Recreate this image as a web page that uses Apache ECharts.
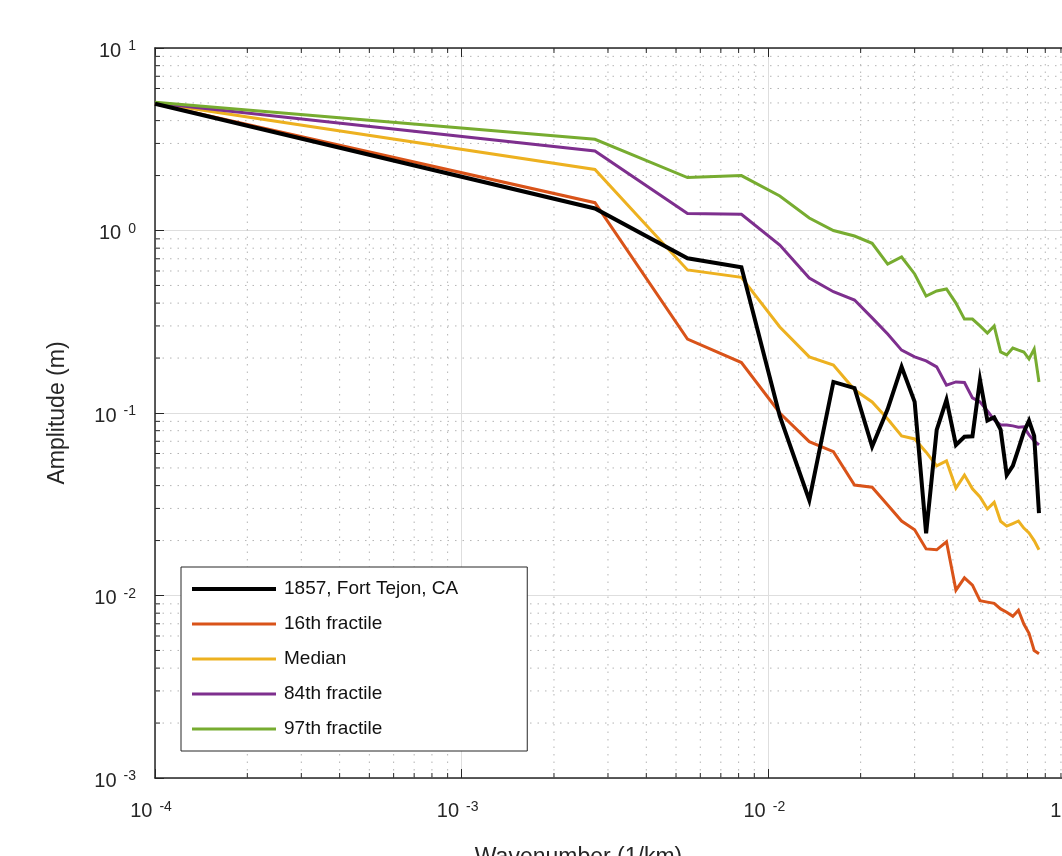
<!DOCTYPE html>
<html>
<head>
<meta charset="utf-8">
<script src="https://cdn.jsdelivr.net/npm/echarts@6/dist/echarts.min.js"></script>
<style>
  html, body { margin: 0; padding: 0; background: #fff; }
  #chart { width: 1062px; height: 856px; }
</style>
</head>
<body>
<div id="chart"></div>
<script>
// wavenumber (1/km) shared by every curve
var wavenumber = [0.0001, 0.00272, 0.00545, 0.00817, 0.0109, 0.0136, 0.0163, 0.0191, 0.0218,
  0.0245, 0.0272, 0.0300, 0.0327, 0.0354, 0.0381, 0.0409, 0.0436, 0.0463, 0.0490,
  0.0518, 0.0545, 0.0572, 0.0599, 0.0627, 0.0654, 0.0681, 0.0708, 0.0736, 0.0763]

var fortTejon = [4.95, 1.32, 0.704, 0.628, 0.096, 0.0333, 0.148, 0.137, 0.0654,
  0.105, 0.179, 0.115, 0.0219, 0.0807, 0.118, 0.0668, 0.0741, 0.0745, 0.152,
  0.0908, 0.0947, 0.081, 0.0457, 0.0513, 0.0635, 0.0787, 0.0908, 0.075, 0.0283]
var frac16 = [4.95, 1.42, 0.254, 0.189, 0.100, 0.0697, 0.0614, 0.0403, 0.0392,
  0.0313, 0.0256, 0.0229, 0.0180, 0.0178, 0.0197, 0.0107, 0.0125, 0.0114, 0.00937,
  0.0092, 0.00906, 0.00844, 0.0081, 0.0077, 0.0083, 0.00698, 0.0062, 0.0050, 0.0048]
var median = [5.0, 2.16, 0.608, 0.554, 0.296, 0.203, 0.183, 0.134, 0.115,
  0.0927, 0.0748, 0.0721, 0.061, 0.0513, 0.0546, 0.0388, 0.0457, 0.0384, 0.0347,
  0.0298, 0.0324, 0.0255, 0.024, 0.0248, 0.0256, 0.0234, 0.022, 0.020, 0.0178]
var frac84 = [5.0, 2.73, 1.24, 1.227, 0.833, 0.549, 0.462, 0.416, 0.332,
  0.271, 0.221, 0.203, 0.193, 0.179, 0.142, 0.148, 0.147, 0.121, 0.115,
  0.1026, 0.0916, 0.086, 0.086, 0.085, 0.0836, 0.084, 0.0759, 0.0703, 0.0668]
var frac97 = [5.05, 3.16, 1.95, 2.0, 1.545, 1.171, 1.0, 0.933, 0.851,
  0.655, 0.716, 0.578, 0.437, 0.466, 0.478, 0.40, 0.327, 0.327, 0.300,
  0.274, 0.300, 0.216, 0.208, 0.227, 0.221, 0.216, 0.198, 0.224, 0.148]

var names = ['1857, Fort Tejon, CA', '16th fractile', 'Median', '84th fractile', '97th fractile']
var colors = ['#000000', '#D95319', '#EDB120', '#7E2F8E', '#77AC30']
var widths = [4, 3, 3, 3, 3]

var X_MIN = 1e-4, X_MAX = 1e-1, Y_MIN = 1e-3, Y_MAX = 10
var axisColor = '#262626'
var font = '"Liberation Sans", Arial, Helvetica, sans-serif'

// minor (2..9) positions for dotted grid + small ticks
var minorX = [], minorY = []
for (var d = -4; d < -1; d++) for (var m = 2; m < 10; m++) minorX.push([m * Math.pow(10, d), Y_MIN])
for (var d = -3; d < 1; d++) for (var m = 2; m < 10; m++) minorY.push([X_MIN, m * Math.pow(10, d)])

function pairs(ys) {
  return ys.map(function (y, i) { return [wavenumber[i], y] })
}

function expLabel(v) {
  return '{b|10}{e|' + Math.round(Math.log10(v)) + '}'
}
var labelRich = {
  b: { fontSize: 20, color: axisColor, fontFamily: font },
  e: { fontSize: 14, color: axisColor, fontFamily: font, padding: [0, 0, 9, 7] }
}

var chart = echarts.init(document.getElementById('chart'))

function lineSeries(idx, data, z) {
  return {
    name: names[idx],
    type: 'line',
    data: pairs(data),
    symbol: 'none',
    showSymbol: false,
    z: z,
    lineStyle: { color: colors[idx], width: widths[idx], join: 'miter' },
    itemStyle: { color: colors[idx] }
  }
}

var option = {
  animation: false,
  backgroundColor: '#fff',
  grid: { left: 155, top: 48, width: 920, height: 730, outerBoundsMode: 'none', containLabel: false },
  legend: {
    data: names.map(function (n, i) {
      return { name: n, lineStyle: { width: widths[i], color: colors[i] } }
    }),
    orient: 'vertical',
    left: 181,
    top: 567,
    padding: [12, 69, 12, 9],
    itemWidth: 84,
    itemHeight: 20,
    itemGap: 15,
    itemStyle: { opacity: 0 },
    backgroundColor: '#fff',
    borderColor: axisColor,
    borderWidth: 1,
    borderRadius: 0,
    textStyle: { fontSize: 19, lineHeight: 20, color: '#111', fontFamily: font, padding: [0, 0, 0, 3] }
  },
  xAxis: [{
    type: 'log',
    logBase: 10,
    min: X_MIN,
    max: X_MAX,
    name: 'Wavenumber (1/km)',
    nameLocation: 'middle',
    nameGap: 68,
    nameTextStyle: { fontSize: 23, color: axisColor, fontFamily: font, padding: [0, 73, 0, 0] },
    axisLine: { onZero: false, lineStyle: { color: axisColor, width: 1.5 } },
    axisTick: { inside: true, length: 9, lineStyle: { color: axisColor } },
    axisLabel: { formatter: expLabel, rich: labelRich, margin: 22, padding: [0, 8, 0, 0] },
    splitLine: { show: true, lineStyle: { color: '#dedede', width: 1 } }
  }, {
    type: 'log',
    logBase: 10,
    min: X_MIN,
    max: X_MAX,
    position: 'top',
    axisLine: { onZero: false, lineStyle: { color: axisColor, width: 1.5 } },
    axisTick: { inside: true, length: 9, lineStyle: { color: axisColor } },
    axisLabel: { show: false },
    splitLine: { show: false }
  }],
  yAxis: {
    type: 'log',
    logBase: 10,
    min: Y_MIN,
    max: Y_MAX,
    name: 'Amplitude (m)',
    nameLocation: 'middle',
    nameGap: 86,
    nameTextStyle: { fontSize: 23, color: axisColor, fontFamily: font },
    axisLine: { onZero: false, lineStyle: { color: axisColor, width: 1.5 } },
    axisTick: { inside: true, length: 9, lineStyle: { color: axisColor } },
    axisLabel: { formatter: expLabel, rich: labelRich, margin: 19, padding: [6, 0, 0, 0] },
    splitLine: { show: true, lineStyle: { color: '#dedede', width: 1 } }
  },
  series: [
    {
      name: 'minorX',
      type: 'custom',
      silent: true,
      z: 1,
      data: minorX,
      renderItem: function (params, api) {
        var v = api.value(0)
        var a = api.coord([v, Y_MIN]), b = api.coord([v, Y_MAX])
        return {
          type: 'group',
          children: [
            { type: 'line', shape: { x1: a[0], y1: a[1], x2: b[0], y2: b[1] },
              style: { stroke: '#b4b4b4', lineWidth: 1, lineDash: [1.5, 6] } },
            { type: 'line', shape: { x1: a[0], y1: a[1], x2: a[0], y2: a[1] - 5 },
              style: { stroke: axisColor, lineWidth: 1 } },
            { type: 'line', shape: { x1: b[0], y1: b[1], x2: b[0], y2: b[1] + 5 },
              style: { stroke: axisColor, lineWidth: 1 } }
          ]
        }
      }
    },
    {
      name: 'minorY',
      type: 'custom',
      silent: true,
      z: 1,
      data: minorY,
      renderItem: function (params, api) {
        var v = api.value(1)
        var a = api.coord([X_MIN, v]), b = api.coord([X_MAX, v])
        return {
          type: 'group',
          children: [
            { type: 'line', shape: { x1: a[0], y1: a[1], x2: b[0], y2: b[1] },
              style: { stroke: '#b4b4b4', lineWidth: 1, lineDash: [1.5, 6] } },
            { type: 'line', shape: { x1: a[0], y1: a[1], x2: a[0] + 5, y2: a[1] },
              style: { stroke: axisColor, lineWidth: 1 } }
          ]
        }
      }
    },
    lineSeries(1, frac16, 3),
    lineSeries(2, median, 3),
    lineSeries(3, frac84, 3),
    lineSeries(4, frac97, 3),
    lineSeries(0, fortTejon, 4)
  ]
}

chart.setOption(option)
</script>
</body>
</html>
